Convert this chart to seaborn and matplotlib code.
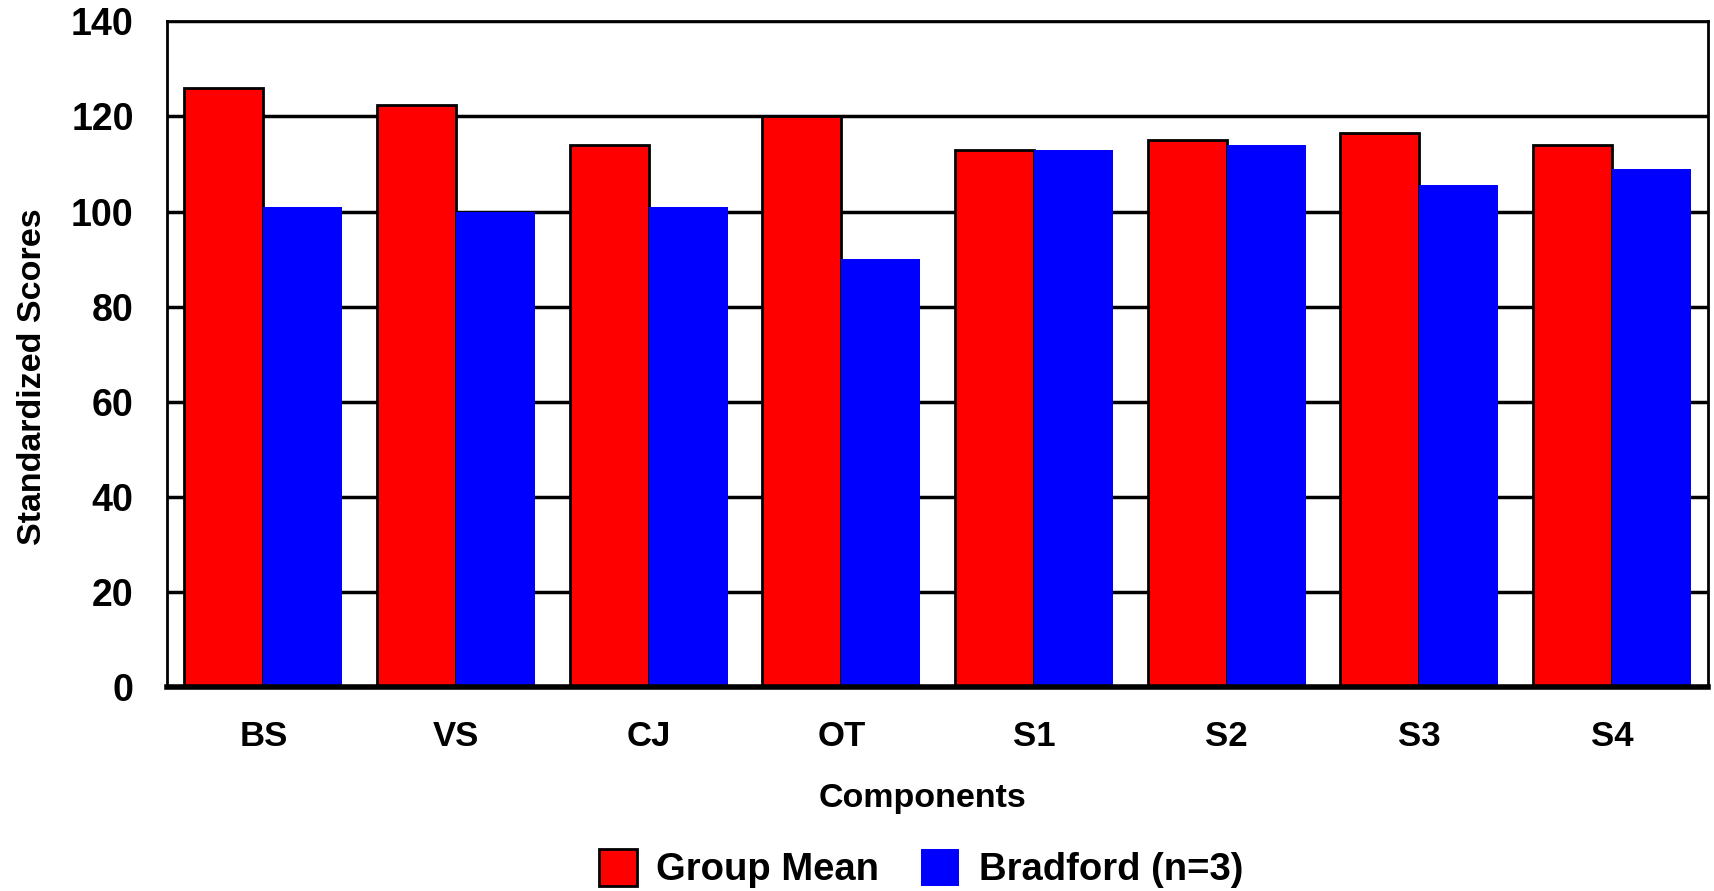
import pandas as pd
import matplotlib
matplotlib.use('Agg')
import matplotlib.pyplot as plt
from matplotlib.patches import Patch
import seaborn as sns

# chart values
components = ['BS', 'VS', 'CJ', 'OT', 'S1', 'S2', 'S3', 'S4']
group_mean = [126, 122.5, 114, 120, 113, 115, 116.5, 114]
bradford = [101, 100, 101, 90, 113, 114, 105.5, 109]
series_names = ['Group Mean', 'Bradford (n=3)']
y_ticks = [0, 20, 40, 60, 80, 100, 120, 140]

df = pd.DataFrame({
    'Components': components * 2,
    'Score': group_mean + bradford,
    'Series': [series_names[0]] * len(components) + [series_names[1]] * len(components),
})

sns.set_theme(style='white')
plt.rcParams['font.family'] = ['Liberation Sans', 'DejaVu Sans']
plt.rcParams['font.weight'] = 'bold'
for key in ['text.color', 'axes.labelcolor', 'xtick.color', 'ytick.color']:
    plt.rcParams[key] = 'black'

fig = plt.figure(figsize=(17.15, 8.91), dpi=100)
ax = fig.add_axes([0.0974, 0.229, 0.8986, 0.747])

sns.barplot(data=df, x='Components', y='Score', hue='Series',
            palette=['#ff0000', '#0000ff'], width=0.82, saturation=1,
            ax=ax, legend=False)

# red bars get a black outline, blue bars none
for p in ax.containers[0]:
    p.set_edgecolor('black')
    p.set_linewidth(2)
for p in ax.containers[1]:
    p.set_edgecolor('none')

ax.set_ylim(0, 140)
ax.set_yticks(y_ticks)
ax.set_xlim(-0.5, len(components) - 0.5)
ax.yaxis.grid(True, color='black', linewidth=2.5)
ax.set_axisbelow(True)
for side in ['left', 'top', 'right']:
    ax.spines[side].set_color('black')
    ax.spines[side].set_linewidth(2)
ax.spines['bottom'].set_color('black')
ax.spines['bottom'].set_linewidth(4)

ax.tick_params(axis='y', length=0, pad=24, labelsize=27)
ax.tick_params(axis='x', length=0, pad=24, labelsize=25)
for lbl in ax.get_xticklabels() + ax.get_yticklabels():
    lbl.set_fontweight('bold')

ax.set_xlabel('Components', fontsize=24.5, fontweight='bold', labelpad=21)
ax.set_ylabel('Standardized Scores', fontsize=24.5, fontweight='bold', labelpad=20)
ax.xaxis.set_label_coords(0.49, -0.145)
ax.yaxis.set_label_coords(-0.077, 0.466)

handles = [Patch(facecolor='#ff0000', edgecolor='black', linewidth=2),
           Patch(facecolor='#0000ff', edgecolor='none')]
fig.legend(handles, series_names, loc='center', bbox_to_anchor=(0.537, 0.025),
           ncol=2, frameon=False, prop={'size': 27.5, 'weight': 'bold'},
           handlelength=1.0, handleheight=1.1, handletextpad=0.5, columnspacing=1.1)

fig.savefig('out.png', dpi=100)
